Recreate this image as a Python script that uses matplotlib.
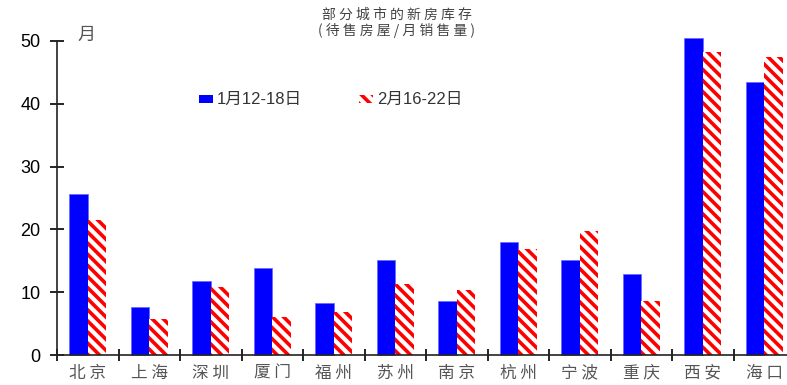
import numpy as np
import matplotlib.pyplot as plt
from matplotlib.patches import Rectangle

plt.rcParams['font.family'] = ['Liberation Sans', 'Noto Sans CJK SC', 'DejaVu Sans']
plt.rcParams['hatch.linewidth'] = 2.6

cities = ["北京", "上海", "深圳", "厦门", "福州", "苏州", "南京", "杭州", "宁波", "重庆", "西安", "海口"]
jan = [25.7, 7.6, 11.8, 13.8, 8.3, 15.1, 8.6, 18.0, 15.1, 12.9, 50.4, 43.5]
feb = [21.5, 5.7, 10.9, 6.1, 6.9, 11.3, 10.4, 16.9, 19.7, 8.6, 48.3, 47.5]
label_jan = "1月12-18日"
label_feb = "2月16-22日"
title1 = "部分城市的新房库存"
title2 = "(待售房屋/月销售量)"


def spaced(s):
    # the original font is drawn with wide letter spacing
    return " ".join(s)


fig = plt.figure(figsize=(7.87, 3.85), dpi=100)
ax = fig.add_axes([57 / 787, 30 / 385, 738 / 787, 314 / 385])

x = np.arange(len(cities))
w = 0.3
ax.bar(x - w / 2, jan, w, color="#0000ff", edgecolor="#6666ff", linewidth=0.5, clip_on=False)
ax.bar(x + w / 2, feb, w, color="white", edgecolor="red", hatch="\\\\\\", linewidth=0, clip_on=False)

ax.set_xlim(-0.5, len(cities) - 0.5)
ax.set_ylim(0, 50)
ax.set_yticks([0, 10, 20, 30, 40, 50])
ax.tick_params(axis="y", direction="inout", length=10, width=1.2, labelsize=13, pad=7)

ax.set_xticks(x)
ax.set_xticklabels([spaced(c) for c in cities], family=["Noto Sans CJK SC"], fontsize=12,
                   color="#555555")
ax.set_xticks(np.arange(len(cities) + 1) - 0.5, minor=True)
ax.tick_params(axis="x", which="major", length=0, pad=7)
ax.tick_params(axis="x", which="minor", direction="inout", length=8, width=1.2)

for s in ["top", "right"]:
    ax.spines[s].set_visible(False)
for s in ["left", "bottom"]:
    ax.spines[s].set_linewidth(1.2)
    ax.spines[s].set_color("#222222")

fig.text(397 / 787, 1 - 15 / 385, spaced(title1), ha="center", va="center",
         fontsize=10, color="#444444", family=["Noto Sans CJK SC"])
fig.text(397 / 787, 1 - 31 / 385, spaced(title2), ha="center", va="center",
         fontsize=10, color="#444444", family=["Noto Sans CJK SC"])
fig.text(77 / 787, 1 - 35 / 385, "月", ha="left", va="center",
         fontsize=13, color="#555555", family=["Noto Sans CJK SC"])

# legend
fig.patches.append(Rectangle((199 / 787, 1 - 103 / 385), 14 / 787, 8 / 385,
                             transform=fig.transFigure, facecolor="#0000ff", edgecolor="none"))
fig.patches.append(Rectangle((359 / 787, 1 - 103 / 385), 14 / 787, 8 / 385,
                             transform=fig.transFigure, facecolor="white", edgecolor="red",
                             hatch="\\\\\\", linewidth=0))
fig.text(217 / 787, 1 - 99 / 385, label_jan, ha="left", va="center", fontsize=12,
         color="#333333")
fig.text(377 / 787, 1 - 99 / 385, label_feb, ha="left", va="center", fontsize=12,
         color="#333333")

fig.savefig("out.png", dpi=100)
